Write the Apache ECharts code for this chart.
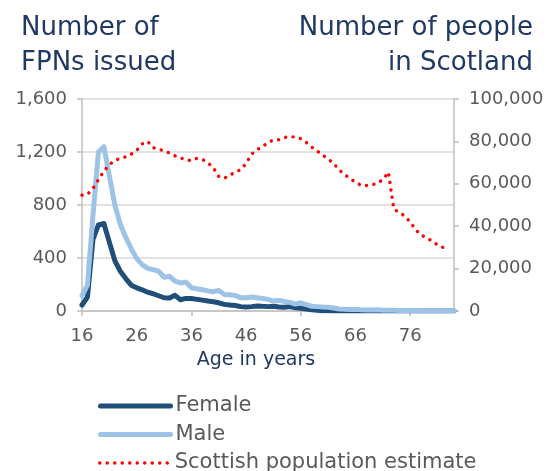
<!DOCTYPE html>
<html>
<head>
<meta charset="utf-8">
<script src="https://cdn.jsdelivr.net/npm/echarts@6/dist/echarts.min.js"></script>
<style>
html,body{margin:0;padding:0;background:#fff;}
#chart{width:550px;height:471px;}
</style>
</head>
<body>
<div id="chart"></div>
<script>
// ---- Data ----
var ages = [];
for (var a = 16; a <= 84; a++) ages.push(String(a));

var female = [45,105,540,650,660,520,380,300,245,195,175,160,142,130,115,100,98,118,85,95,
  95,88,82,75,70,62,50,45,42,33,30,33,38,35,33,36,30,28,33,24,
  20,15,10,5,2,1,0,0,0,0,0,0,0,0,0,0,0,0,0,0,
  0,0,0,0,0,0,0,0,0];

var male = [115,195,720,1200,1240,1020,800,655,555,470,395,350,322,312,300,255,262,225,212,218,
  175,168,160,152,146,155,125,122,118,100,100,105,100,95,88,75,80,72,65,52,
  62,48,36,33,30,28,22,15,13,12,13,10,8,7,9,6,6,5,4,4,
  3,3,2,2,2,1,1,1,1];

var population = [54600,55000,57800,62000,66000,69000,71000,72000,72700,74000,
  75800,78800,80000,77000,76400,75500,74500,73200,72300,71200,
  71000,72000,71500,70000,67500,63500,62600,64000,65500,66600,
  69700,74000,76200,77500,79500,80700,80800,81800,82300,82000,
  81300,79500,77300,75500,73500,71700,69600,66600,64300,62500,
  60700,59300,59200,59400,60500,61800,65500,48000,46500,44800,
  42000,38300,35800,34500,33000,31100,30000,null,null];

var seriesNames = ['Female', 'Male', 'Scottish population estimate'];
var leftTicks = {min: 0, max: 1600, interval: 400};
var rightTicks = {min: 0, max: 100000, interval: 20000};

var navy = '#1F3864';
var gray = '#595959';
var axisGray = '#BFBFBF';
var font = 'DejaVu Sans';

function fmt(v){ return String(v).replace(/\B(?=(\d{3})+(?!\d))/g, ','); }

function legendFor(name, top, width) {
  return {
    orient: 'vertical',
    left: 98,
    top: top,
    padding: 0,
    itemWidth: 70,
    itemHeight: 24,
    itemStyle: {color: 'rgba(0,0,0,0)', borderColor: 'rgba(0,0,0,0)', borderWidth: 0, opacity: 0},
    textStyle: {fontSize: 21, lineHeight: 24, color: gray, fontFamily: font},
    data: [{name: name, lineStyle: {width: width}}]
  };
}

var chart = echarts.init(document.getElementById('chart'), null, {renderer: 'canvas'});
chart.setOption({
  animation: false,
  backgroundColor: '#ffffff',
  textStyle: {fontFamily: font},
  grid: {left: 82, right: 96, top: 99, bottom: 160, containLabel: false},
  graphic: [
    {type: 'text', x: 21, y: 28, style: {text: 'Number of', font: '26px "DejaVu Sans"', fill: navy, textAlign: 'left', textVerticalAlign: 'middle'}},
    {type: 'text', x: 21, y: 63, style: {text: 'FPNs issued', font: '26px "DejaVu Sans"', fill: navy, textAlign: 'left', textVerticalAlign: 'middle'}},
    {type: 'text', x: 533, y: 28, style: {text: 'Number of people', font: '26px "DejaVu Sans"', fill: navy, textAlign: 'right', textVerticalAlign: 'middle'}},
    {type: 'text', x: 533, y: 63, style: {text: 'in Scotland', font: '26px "DejaVu Sans"', fill: navy, textAlign: 'right', textVerticalAlign: 'middle'}},
    {type: 'text', x: 256, y: 360, style: {text: 'Age in years', font: '19px "DejaVu Sans"', fill: navy, textAlign: 'center', textVerticalAlign: 'middle'}}
  ],
  legend: [
    legendFor(seriesNames[0], 394, 5),
    legendFor(seriesNames[1], 422.5, 5),
    legendFor(seriesNames[2], 451, 3.4)
  ],
  xAxis: {
    type: 'category',
    data: ages,
    boundaryGap: false,
    axisLine: {show: true, lineStyle: {color: axisGray, width: 1.5}},
    axisTick: {show: true, interval: 19, length: 5, lineStyle: {color: axisGray, width: 1.5}},
    axisLabel: {interval: 9, color: gray, fontSize: 18, fontFamily: font, margin: 16},
    splitLine: {show: false}
  },
  yAxis: [
    {
      type: 'value', min: leftTicks.min, max: leftTicks.max, interval: leftTicks.interval,
      position: 'left',
      axisLine: {show: true, lineStyle: {color: axisGray, width: 1.5}},
      axisTick: {show: true, length: 5, lineStyle: {color: axisGray, width: 1.5}},
      axisLabel: {color: gray, fontSize: 18, fontFamily: font, margin: 15, formatter: fmt},
      splitLine: {show: true, lineStyle: {color: '#D9D9D9', width: 1.5}}
    },
    {
      type: 'value', min: rightTicks.min, max: rightTicks.max, interval: rightTicks.interval,
      position: 'right',
      axisLine: {show: true, lineStyle: {color: axisGray, width: 1.5}},
      axisTick: {show: true, length: 5, lineStyle: {color: axisGray, width: 1.5}},
      axisLabel: {color: gray, fontSize: 18, fontFamily: font, margin: 15, formatter: fmt},
      splitLine: {show: false}
    }
  ],
  series: [
    {
      name: seriesNames[0], type: 'line', yAxisIndex: 0, data: female,
      symbol: 'none', showSymbol: false, smooth: false,
      itemStyle: {color: '#1F4E79'},
      lineStyle: {color: '#1F4E79', width: 5, cap: 'round', join: 'round'},
      z: 2
    },
    {
      name: seriesNames[1], type: 'line', yAxisIndex: 0, data: male,
      symbol: 'none', showSymbol: false, smooth: false,
      itemStyle: {color: '#9DC3E6'},
      lineStyle: {color: '#9DC3E6', width: 5, cap: 'round', join: 'round'},
      z: 3
    },
    {
      name: seriesNames[2], type: 'line', yAxisIndex: 1, data: population,
      symbol: 'none', showSymbol: false, smooth: false, connectNulls: false,
      itemStyle: {color: '#FF0000'},
      lineStyle: {color: '#FF0000', width: 3.4, type: [0.1, 7.4], cap: 'round', join: 'round'},
      z: 4
    }
  ]
});
</script>
</body>
</html>
